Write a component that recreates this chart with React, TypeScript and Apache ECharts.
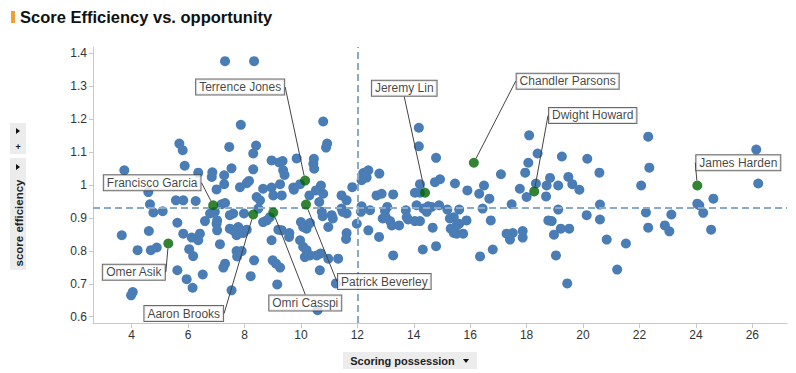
import React, { useEffect, useRef } from "react";
import * as echarts from "echarts";

// Scoring possession (x) and score efficiency (y) for all players
const possession = [
  7.31, 8.34, 7.87, 10.79, 5.69, 5.81, 7.46, 8.41, 8.31, 10.93,
  10.89, 5.88, 3.74, 6.36, 6.86, 6.84, 7.54, 7.28, 8.31, 8.96,
  9.23, 9.35, 9.37, 9.42, 9.85, 10.46, 10.44, 10.47, 7.28, 8.16,
  8.08, 9.26, 10.71, 7.84, 7.01, 8.66, 8.96, 9.73, 9.97, 4.59,
  8.43, 8.55, 9.02, 9.32, 9.75, 10.79, 4.65, 4.77, 5.10, 5.57,
  5.83, 6.27, 7.19, 7.31, 6.78, 6.95, 7.03, 6.60, 7.48, 7.60,
  7.98, 8.49, 8.66, 8.90, 8.79, 9.32, 9.59, 9.58, 9.20, 7.48,
  7.60, 7.78, 7.96, 8.08, 7.72, 7.84, 7.01, 7.03, 5.62, 4.61,
  3.65, 5.83, 6.13, 6.36, 6.42, 4.21, 4.68, 4.89, 6.04, 6.18,
  7.13, 7.72, 7.90, 7.74, 8.34, 8.96, 9.00, 9.12, 9.26, 7.31,
  7.25, 5.62, 5.95, 6.16, 6.52, 8.22, 7.54, 9.16, 4.04, 3.98,
  9.97, 10.08, 10.20, 10.32, 10.14, 10.00, 10.08, 10.20, 10.32, 10.65,
  10.74, 10.56, 10.70, 10.67, 10.59, 10.97, 10.97, 10.30, 10.53, 10.77,
  11.09, 11.13, 11.44, 11.62, 11.44, 11.48, 11.62, 11.82, 11.98, 11.62,
  11.60, 11.32, 11.24, 12.15, 12.13, 12.45, 12.39, 12.77, 12.68, 12.86,
  13.27, 13.06, 12.98, 12.90, 13.01, 13.16, 13.22, 13.48, 13.27, 13.72,
  13.75, 13.80, 14.10, 14.04, 14.22, 14.04, 14.22, 14.34, 14.46, 14.63,
  14.51, 14.90, 14.67, 14.32, 14.79, 15.19, 15.28, 15.42, 15.61, 15.52,
  15.61, 15.87, 15.31, 15.42, 15.52, 15.75, 16.35, 16.80, 16.44, 16.32,
  16.68, 15.90, 16.49, 16.73, 17.47, 17.29, 17.51, 17.41, 17.86, 17.86,
  17.76, 18.00, 18.69, 18.77, 15.46, 14.75, 14.93, 14.22, 12.21, 12.39,
  12.33, 12.15, 12.78, 14.18, 14.18, 14.79, 17.09, 18.09, 18.39, 18.06,
  17.95, 18.33, 18.71, 22.31, 19.25, 20.15, 20.58, 22.35, 18.83, 19.48,
  19.12, 19.62, 19.87, 22.06, 26.14, 26.21, 19.12, 18.89, 19.21, 19.51,
  18.97, 19.04, 19.44, 20.13, 20.60, 20.60, 20.84, 21.21, 21.52, 22.23,
  22.31, 22.90, 23.06, 23.13, 24.05, 24.12, 24.26, 24.62, 24.54,
];
const efficiency = [
  1.375, 1.375, 1.182, 1.192, 1.125, 1.105, 1.115, 1.119, 1.095, 1.125,
  1.113, 1.058, 1.044, 1.037, 1.038, 1.024, 1.05, 1.029, 1.047, 1.074,
  1.068, 1.072, 1.044, 1.03, 1.08, 1.079, 1.064, 1.049, 1.002, 1.012,
  1.005, 1.002, 0.998, 0.993, 0.986, 0.988, 0.992, 0.992, 1.002, 0.978,
  0.963, 0.953, 0.968, 0.968, 0.985, 0.973, 0.941, 0.916, 0.92, 0.953,
  0.953, 0.951, 0.941, 0.945, 0.913, 0.918, 0.892, 0.89, 0.908, 0.913,
  0.913, 0.928, 0.887, 0.902, 0.892, 0.862, 0.854, 0.842, 0.864, 0.867,
  0.862, 0.872, 0.854, 0.864, 0.847, 0.854, 0.882, 0.862, 0.885, 0.86,
  0.847, 0.852, 0.84, 0.832, 0.852, 0.802, 0.802, 0.81, 0.805, 0.784,
  0.82, 0.799, 0.799, 0.783, 0.771, 0.832, 0.771, 0.761, 0.749, 0.761,
  0.749, 0.741, 0.714, 0.688, 0.728, 0.723, 0.68, 0.698, 0.675, 0.665,
  0.832, 0.812, 0.802, 0.786, 0.781, 0.887, 0.872, 0.867, 0.884, 0.948,
  0.918, 0.786, 0.792, 0.741, 0.62, 0.776, 0.872, 0.968, 0.983, 0.905,
  0.908, 0.898, 0.968, 0.953, 0.928, 0.918, 0.913, 0.993, 0.882, 0.854,
  0.836, 0.776, 0.701, 0.935, 0.918, 0.923, 0.862, 0.842, 0.968, 0.973,
  0.971, 0.933, 0.921, 0.898, 0.902, 0.89, 0.877, 0.877, 0.786, 0.923,
  0.902, 0.895, 0.938, 0.89, 0.89, 0.976, 0.976, 0.928, 0.918, 0.933,
  0.935, 0.938, 0.87, 0.804, 0.814, 0.925, 0.898, 0.902, 0.925, 0.877,
  0.882, 0.892, 0.867, 0.854, 0.852, 0.852, 0.783, 0.804, 0.928, 0.973,
  0.958, 0.983, 0.998, 0.892, 0.941, 0.852, 0.854, 0.834, 0.86, 0.84,
  0.988, 0.963, 0.965, 0.892, 1.004, 1.008, 1.017, 1.002, 1.036, 1.044,
  1.022, 1.014, 1.034, 1.173, 1.117, 1.082, 1.032, 1.15, 1.095, 1.067,
  1.037, 1.004, 0.998, 1.146, 1.086, 1.079, 1.037, 1.052, 1.021, 1.024,
  0.998, 1.002, 0.985, 0.998, 1.107, 1.004, 0.925, 0.89, 0.867, 0.867,
  0.849, 0.786, 0.701, 0.908, 0.94, 0.895, 0.834, 0.743, 0.822, 0.916,
  0.87, 0.877, 0.859, 0.91, 0.943, 0.938, 0.915, 0.958, 0.864,
];

// Highlighted players
const playerNames = [
  "Terrence Jones", "Francisco Garcia", "Omer Asik", "Aaron Brooks", "Omri Casspi",
  "Patrick Beverley", "Jeremy Lin", "Chandler Parsons", "Dwight Howard", "James Harden",
];
const playerPossession = [10.15, 6.89, 5.3, 8.31, 9.02, 10.18, 14.4, 16.13, 18.27, 24.05];
const playerEfficiency = [1.013, 0.938, 0.822, 0.91, 0.916, 0.94, 0.976, 1.067, 0.98, 0.998];

const xTicks = [4, 6, 8, 10, 12, 14, 16, 18, 20, 22, 24, 26];
const yTicks = [0.6, 0.7, 0.8, 0.9, 1.0, 1.1, 1.2, 1.3, 1.4];

const meanPossession = 12.0;
const meanEfficiency = 0.925;

// label box offsets (pixels) relative to each highlighted point
const labelOffsets = [
  [-65, -93.5], [-61, -22.5], [-34.5, 28.7], [-69.5, 99], [32, 90.5],
  [78.3, 77], [-20.8, -104.5], [93.8, -81.5], [58.5, -76], [41, -22.8],
];

const FONT = "Arial, 'Liberation Sans', sans-serif";

export default function App() {
  const ref = useRef<HTMLDivElement>(null);
  useEffect(() => {
    if (!ref.current) return;
    const chart = echarts.init(ref.current, null, { renderer: "svg" });
    const mainData = possession.map((x, i) => [x, efficiency[i]]);
    const playerData = playerNames.map((n, i) => ({
      name: n,
      value: [playerPossession[i], playerEfficiency[i]],
    }));
    chart.setOption({
      animation: false,
      backgroundColor: "#ffffff",
      grid: { left: 93, right: 9, top: 47, bottom: 50 },
      xAxis: {
        type: "value",
        min: 2.63,
        max: 27.23,
        splitLine: { show: false },
        axisLine: { show: true, onZero: false, lineStyle: { color: "#c8c8c8", width: 1 } },
        axisTick: { show: true, customValues: xTicks, length: 5, lineStyle: { color: "#c8c8c8" } },
        axisLabel: {
          customValues: xTicks,
          color: "#333",
          fontSize: 12,
          fontFamily: FONT,
          margin: 6,
        },
      },
      yAxis: {
        type: "value",
        min: 0.581,
        max: 1.418,
        splitLine: { show: false },
        axisLine: { show: true, onZero: false, lineStyle: { color: "#c8c8c8", width: 1 } },
        axisTick: { show: true, customValues: yTicks, length: 4, lineStyle: { color: "#c8c8c8" } },
        axisLabel: {
          customValues: yTicks,
          color: "#333",
          fontSize: 12,
          fontFamily: FONT,
          margin: 6,
          formatter: (v: number) => String(+v.toFixed(1)),
        },
      },
      series: [
        {
          type: "scatter",
          data: mainData,
          symbolSize: 10,
          itemStyle: { color: "#4a7db5", borderWidth: 0, opacity: 1 },
          markLine: {
            silent: true,
            symbol: "none",
            label: { show: false },
            lineStyle: { color: "#8aaac8", width: 2, type: [7, 4] },
            data: [{ yAxis: meanEfficiency }, { xAxis: meanPossession }],
          },
          z: 2,
        },
        {
          type: "scatter",
          data: playerData,
          symbolSize: 10,
          itemStyle: { color: "#006400", borderWidth: 0 },
          label: {
            show: true,
            position: "inside",
            formatter: "{b}",
            color: "#111",
            fontSize: 12,
            fontFamily: FONT,
            backgroundColor: "#ffffff",
            borderColor: "#444",
            borderWidth: 1,
            padding: [1, 3, 1, 3],
            lineHeight: 13,
          },
          labelLine: { show: true, lineStyle: { color: "#444", width: 1 } },
          labelLayout: (params: any) => ({
            dx: labelOffsets[params.dataIndex][0],
            dy: labelOffsets[params.dataIndex][1],
          }),
          z: 5,
        },
      ],
      graphic: [
        { type: "rect", left: 11, top: 11, shape: { width: 4, height: 12 }, style: { fill: "#f0a030" } },
        {
          type: "text",
          left: 20,
          top: 8,
          style: {
            text: "Score Efficiency vs. opportunity",
            font: `bold 16.5px ${FONT}`,
            fill: "#111",
          },
        },
        { type: "rect", left: 10, top: 123, shape: { width: 16, height: 31 }, style: { fill: "#ececec" } },
        { type: "polygon", shape: { points: [[16, 128], [16, 134], [20, 131]] }, style: { fill: "#111" } },
        {
          type: "text",
          x: 18,
          y: 147,
          style: { text: "+", font: `bold 9px ${FONT}`, fill: "#111", align: "center", verticalAlign: "middle" },
        },
        { type: "rect", left: 10, top: 158, shape: { width: 16, height: 112 }, style: { fill: "#ececec" } },
        { type: "polygon", shape: { points: [[16, 164], [16, 170], [20, 167]] }, style: { fill: "#111" } },
        {
          type: "text",
          x: 19,
          y: 223,
          rotation: Math.PI / 2,
          style: {
            text: "score efficiency",
            font: `bold 11.5px ${FONT}`,
            fill: "#222",
            align: "center",
            verticalAlign: "middle",
          },
        },
        { type: "rect", left: 343, top: 352, shape: { width: 134, height: 17 }, style: { fill: "#ececec" } },
        {
          type: "text",
          x: 402.5,
          y: 360.5,
          style: {
            text: "Scoring possession",
            font: `bold 11px ${FONT}`,
            fill: "#222",
            align: "center",
            verticalAlign: "middle",
          },
        },
        { type: "polygon", shape: { points: [[463, 359], [469, 359], [466, 363]] }, style: { fill: "#111" } },
      ],
    });
    return () => chart.dispose();
  }, []);
  return (
    <div
      ref={ref}
      style={{ position: "fixed", left: 0, top: 0, width: 796, height: 373 }}
    />
  );
}
